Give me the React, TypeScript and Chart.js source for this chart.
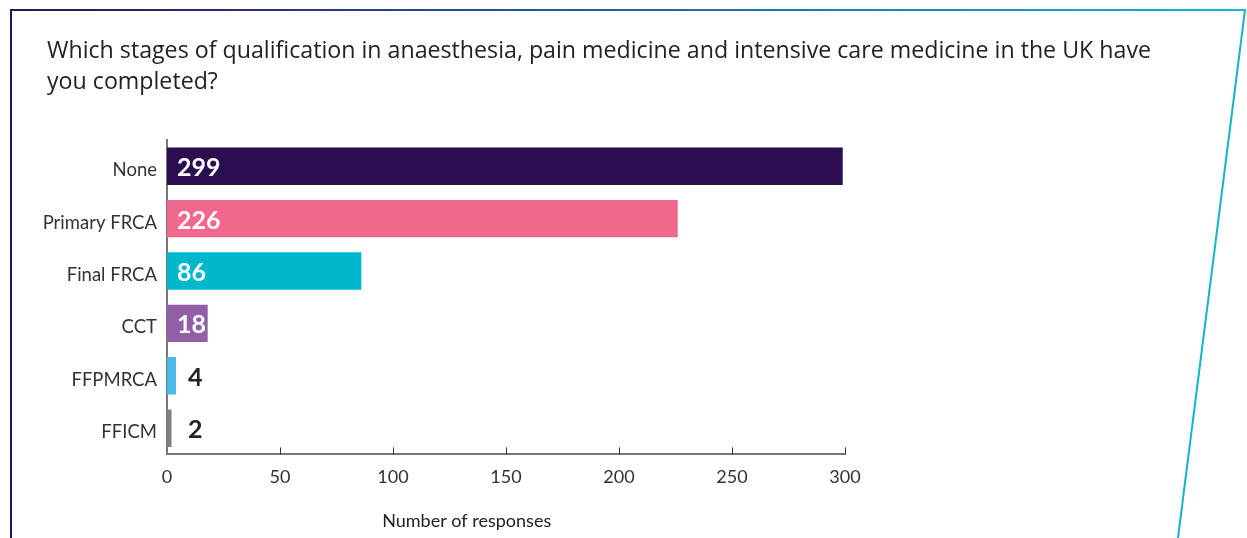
import React, { useEffect, useRef } from "react";
import { Chart, registerables } from "chart.js";

Chart.register(...registerables);

const TITLE_LINES = [
  "Which stages of qualification in anaesthesia, pain medicine and intensive care medicine in the UK have",
  "you completed?",
];
const CATEGORIES = ["None", "Primary FRCA", "Final FRCA", "CCT", "FFPMRCA", "FFICM"];
const VALUES = [299, 226, 86, 18, 4, 2];
const BAR_COLORS = ["#2b0d52", "#f0688c", "#00b7cb", "#905fa8", "#4cb9e9", "#7d8384"];
const X_TITLE = "Number of responses";

const FONT = "Lato, 'Noto Sans', sans-serif";
const TITLE_FONT = "'Open Sans', Lato, sans-serif";

const framePlugin = {
  id: "frame",
  beforeDraw(chart: any) {
    const ctx = chart.ctx;
    const w = chart.width;
    const h = chart.height;
    ctx.save();
    ctx.fillStyle = "#ffffff";
    ctx.fillRect(0, 0, w, h);
    const g = ctx.createLinearGradient(10, 0, 1245, 0);
    g.addColorStop(0, "#2e1256");
    g.addColorStop(1, "#12b8cc");
    ctx.strokeStyle = g;
    ctx.lineWidth = 2;
    ctx.beginPath();
    ctx.moveTo(10, 10);
    ctx.lineTo(1246, 10);
    ctx.stroke();
    ctx.strokeStyle = "#2e1256";
    ctx.beginPath();
    ctx.moveTo(11, 9);
    ctx.lineTo(11, h);
    ctx.stroke();
    ctx.strokeStyle = "#12b5c9";
    ctx.beginPath();
    ctx.moveTo(1245, 10);
    ctx.lineTo(1178, h);
    ctx.stroke();
    ctx.fillStyle = "#222222";
    ctx.font = `23.2px ${TITLE_FONT}`;
    ctx.textAlign = "left";
    ctx.textBaseline = "alphabetic";
    TITLE_LINES.forEach((line, i) => ctx.fillText(line, 47, 58 + i * 31));
    ctx.restore();
  },
  afterDraw(chart: any) {
    const ctx = chart.ctx;
    const xs = chart.scales.x;
    const area = chart.chartArea;
    ctx.save();
    ctx.strokeStyle = "#333333";
    ctx.lineWidth = 1;
    xs.ticks.forEach((t: any) => {
      if (t.value === 0) return;
      const px = Math.round(xs.getPixelForValue(t.value)) + 0.5;
      ctx.beginPath();
      ctx.moveTo(px, area.bottom);
      ctx.lineTo(px, area.bottom - 7);
      ctx.stroke();
    });
    ctx.fillStyle = "#222222";
    ctx.font = `18px ${FONT}`;
    ctx.textAlign = "center";
    ctx.textBaseline = "middle";
    ctx.fillText(X_TITLE, area.left + (area.right - area.left) * 0.442, 521);
    const meta = chart.getDatasetMeta(0);
    const x0 = xs.getPixelForValue(0);
    meta.data.forEach((bar: any, i: number) => {
      const v = VALUES[i];
      ctx.font = `700 25px ${FONT}`;
      ctx.textAlign = "left";
      ctx.textBaseline = "middle";
      if (v >= 10) {
        ctx.fillStyle = "#ffffff";
        ctx.fillText(String(v), x0 + 10, bar.y + 2);
      } else {
        ctx.fillStyle = "#222222";
        ctx.fillText(String(v), x0 + 21, bar.y + 2);
      }
    });
    ctx.restore();
  },
};

export default function App() {
  const ref = useRef<HTMLCanvasElement | null>(null);
  useEffect(() => {
    if (!ref.current) return;
    const chart = new Chart(ref.current, {
      type: "bar",
      data: {
        labels: CATEGORIES,
        datasets: [
          {
            data: VALUES,
            backgroundColor: BAR_COLORS,
            barPercentage: 0.82,
            categoryPercentage: 0.87,
          },
        ],
      },
      options: {
        indexAxis: "y",
        animation: false,
        responsive: false,
        maintainAspectRatio: false,
        layout: { padding: { top: 140, right: 402, bottom: 38, left: 0 } },
        plugins: {
          legend: { display: false },
          tooltip: { enabled: false },
          title: { display: false },
        },
        scales: {
          x: {
            min: 0,
            max: 300,
            ticks: {
              stepSize: 50,
              color: "#333333",
              font: { family: FONT, size: 18 },
              padding: 12,
            },
            grid: { display: false, drawTicks: false },
            border: { display: true, color: "#777777", width: 2 },
          },
          y: {
            afterFit: (scale: any) => {
              scale.width = 167;
            },
            ticks: {
              color: "#333333",
              font: { family: FONT, size: 18.5 },
              padding: 10,
              labelOffset: 4,
            },
            grid: { display: false, drawTicks: false },
            border: { display: true, color: "#777777", width: 2 },
          },
        },
      },
      plugins: [framePlugin],
    });
    return () => chart.destroy();
  }, []);
  return (
    <div style={{ position: "fixed", left: 0, top: 0, width: 1247, height: 538 }}>
      <canvas ref={ref} width={1247} height={538} style={{ width: 1247, height: 538 }} />
    </div>
  );
}
